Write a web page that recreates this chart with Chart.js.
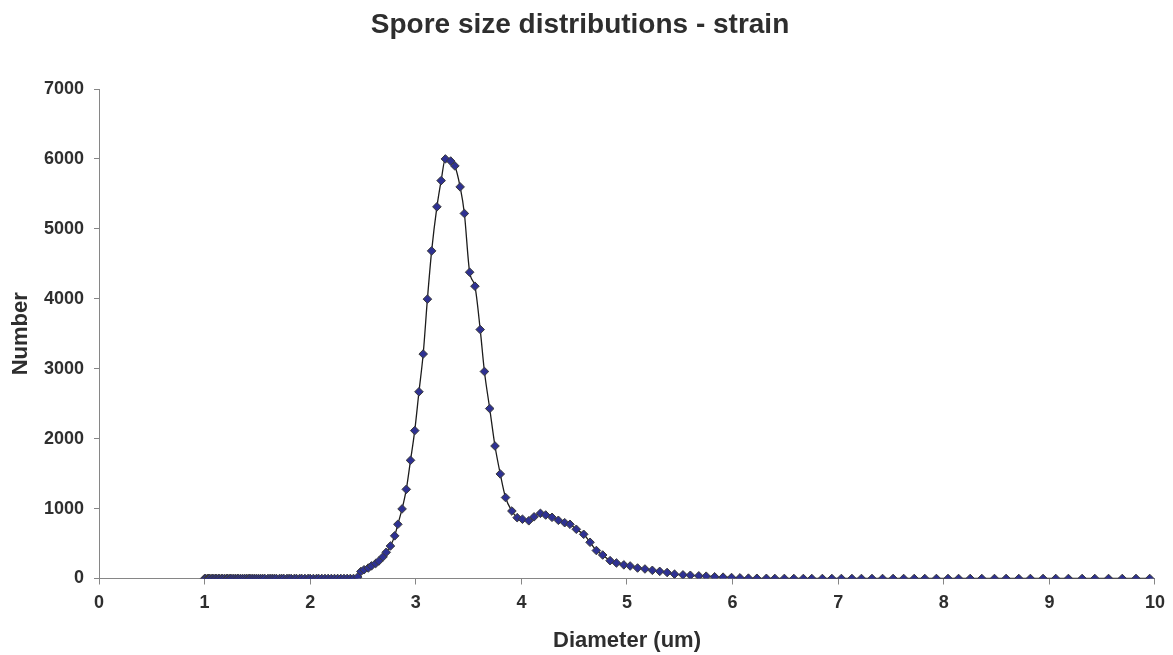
<!DOCTYPE html>
<html>
<head>
<meta charset="utf-8">
<title>Spore size distributions - strain</title>
<script src="https://cdn.jsdelivr.net/npm/chart.js@4.4.1/dist/chart.umd.min.js"></script>
<style>
  html, body { margin: 0; padding: 0; background: #fff; }
  #wrap { width: 1173px; height: 655px; }
</style>
</head>
<body>
<div id="wrap"><canvas id="sporeChart" width="1173" height="655"></canvas></div>
<script>
// =====================================
// DATA
// =====================================

const chartTitle = 'Spore size distributions - strain';
const xAxisTitle = 'Diameter (um)';
const yAxisTitle = 'Number';

// bin diameters (um), log spaced
const diameters = [
  1.00, 1.01, 1.03, 1.04, 1.05, 1.07, 1.08, 1.10, 1.11, 1.13,
  1.14, 1.16, 1.17, 1.19, 1.21, 1.22, 1.24, 1.25, 1.27, 1.29,
  1.31, 1.32, 1.34, 1.36, 1.38, 1.40, 1.42, 1.43, 1.45, 1.47,
  1.49, 1.51, 1.53, 1.55, 1.57, 1.60, 1.62, 1.64, 1.66, 1.68,
  1.71, 1.73, 1.75, 1.78, 1.80, 1.82, 1.85, 1.87, 1.90, 1.92,
  1.95, 1.98, 2.00, 2.03, 2.06, 2.08, 2.11, 2.14, 2.17, 2.20,
  2.23, 2.26, 2.29, 2.32, 2.35, 2.38, 2.41, 2.45, 2.48, 2.51,
  2.55, 2.58, 2.62, 2.65, 2.69, 2.72, 2.76, 2.80, 2.83, 2.87,
  2.91, 2.95, 2.99, 3.03, 3.07, 3.11, 3.15, 3.20, 3.24, 3.28,
  3.33, 3.37, 3.42, 3.46, 3.51, 3.56, 3.61, 3.65, 3.70, 3.75,
  3.80, 3.85, 3.91, 3.96, 4.01, 4.07, 4.12, 4.18, 4.23, 4.29,
  4.35, 4.41, 4.46, 4.52, 4.59, 4.65, 4.71, 4.77, 4.84, 4.90,
  4.97, 5.03, 5.10, 5.17, 5.24, 5.31, 5.38, 5.45, 5.53, 5.60,
  5.68, 5.75, 5.83, 5.91, 5.99, 6.07, 6.15, 6.23, 6.32, 6.40,
  6.49, 6.58, 6.67, 6.75, 6.85, 6.94, 7.03, 7.13, 7.22, 7.32,
  7.42, 7.52, 7.62, 7.72, 7.82, 7.93, 8.04, 8.14, 8.25, 8.36,
  8.48, 8.59, 8.71, 8.82, 8.94, 9.06, 9.18, 9.31, 9.43, 9.56,
  9.69, 9.82, 9.95
];

// spore counts per bin
const counts = [
  0, 0, 0, 0, 0, 0, 0, 0, 0, 0,
  0, 0, 0, 0, 0, 0, 0, 0, 0, 0,
  0, 0, 0, 0, 0, 0, 0, 0, 0, 0,
  0, 0, 0, 0, 0, 0, 0, 0, 0, 0,
  0, 0, 0, 0, 0, 0, 0, 0, 0, 0,
  0, 0, 0, 0, 0, 0, 0, 0, 0, 0,
  0, 0, 0, 0, 0, 0, 0, 20, 100, 125,
  150, 180, 215, 250, 310, 375, 465, 610, 775, 995,
  1275, 1690, 2115, 2670, 3210, 3995, 4685, 5315, 5690, 6000,
  5970, 5900, 5600, 5220, 4380, 4180, 3560, 2960, 2430, 1895,
  1495, 1158, 965, 870, 848, 825, 882, 932, 908, 875,
  832, 798, 775, 704, 632, 518, 400, 336, 255, 222,
  195, 179, 150, 136, 117, 102, 86, 62, 52, 46,
  38, 33, 24, 19, 14, 9, 5, 3, 2, 1,
  1, 0, 0, 0, 0, 0, 0, 0, 0, 0,
  0, 0, 0, 0, 0, 0, 0, 0, 0, 0,
  0, 0, 0, 0, 0, 0, 0, 0, 0, 0,
  0, 0, 0
];

const xMin = 0;
const xMax = 10;
const xStep = 1;
const yMin = 0;
const yMax = 7000;
const yStep = 1000;

// =====================================
// STYLE
// =====================================

const FONT = "'Liberation Sans', Arial, Helvetica, sans-serif";
const TEXT = '#2e2e2e';
const AXIS = '#868686';

const points = diameters.map((d, i) => ({ x: d, y: counts[i] }));

const whiteBg = {
  id: 'whiteBg',
  beforeDraw(chart) {
    const { ctx, width, height } = chart;
    ctx.save();
    ctx.fillStyle = '#ffffff';
    ctx.fillRect(0, 0, width, height);
    ctx.restore();
  },
};

// =====================================
// CHART
// =====================================

new Chart(document.getElementById('sporeChart'), {
  type: 'scatter',
  data: {
    datasets: [
      {
        data: points,
        showLine: true,
        borderColor: '#1c1c1c',
        borderWidth: 1.3,
        cubicInterpolationMode: 'monotone',
        pointStyle: 'rectRot',
        pointRadius: 4.3,
        pointBackgroundColor: '#2e3192',
        pointBorderColor: '#3a3a3a',
        pointBorderWidth: 1,
        pointHoverRadius: 4.3,
      },
    ],
  },
  options: {
    responsive: false,
    animation: false,
    devicePixelRatio: 1,
    layout: { padding: { left: 0, right: 13, top: 0, bottom: 0 } },
    plugins: {
      legend: { display: false },
      tooltip: { enabled: false },
      title: {
        display: true,
        text: chartTitle,
        color: TEXT,
        font: { family: FONT, size: 28, weight: 'bold' },
        padding: { top: 8, bottom: 47.4 },
      },
    },
    scales: {
      x: {
        type: 'linear',
        min: xMin,
        max: xMax,
        ticks: {
          stepSize: xStep,
          color: TEXT,
          padding: 8,
          font: { family: FONT, size: 18, weight: 'bold' },
          callback: (v) => String(v),
        },
        grid: { drawOnChartArea: false, drawTicks: true, tickLength: 6, color: AXIS },
        border: { color: AXIS, width: 1 },
        title: {
          display: true,
          text: xAxisTitle,
          color: TEXT,
          font: { family: FONT, size: 22, weight: 'bold' },
          padding: { top: 0, bottom: 1 },
        },
        afterFit(scale) {
          scale.height = 76.5;
        },
      },
      y: {
        type: 'linear',
        min: yMin,
        max: yMax,
        ticks: {
          stepSize: yStep,
          color: TEXT,
          padding: 10,
          font: { family: FONT, size: 18, weight: 'bold' },
          callback: (v) => String(v),
        },
        grid: { drawOnChartArea: false, drawTicks: true, tickLength: 5, color: AXIS },
        border: { color: AXIS, width: 1 },
        title: {
          display: true,
          text: yAxisTitle,
          color: TEXT,
          font: { family: FONT, size: 22, weight: 'bold' },
          padding: { top: 8, bottom: 0 },
        },
        afterFit(scale) {
          scale.width = 99;
        },
      },
    },
  },
  plugins: [whiteBg],
});
</script>
</body>
</html>
